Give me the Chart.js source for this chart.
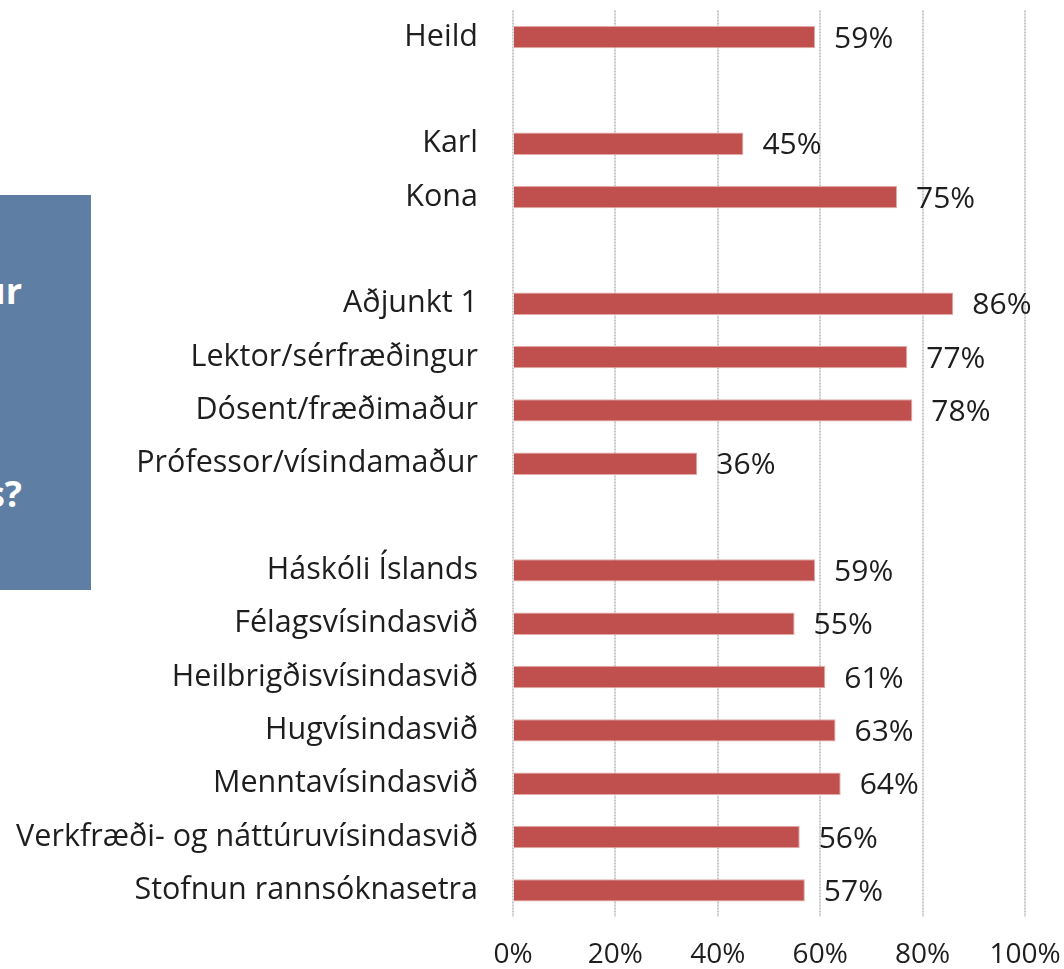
<!DOCTYPE html>
<html>
<head>
<meta charset="utf-8">
<script src="https://cdn.jsdelivr.net/npm/chart.js@4"></script>
<style>
  html, body { margin: 0; padding: 0; background: #fff; }
  body { width: 1064px; height: 969px; position: relative; overflow: hidden; }
  #box { position: absolute; left: 0; top: 195px; width: 91px; height: 395px; background: #5f7ea3; overflow: hidden; }
  .boxtxt { position: absolute; left: 22px; transform: translateX(-100%); color: #fff;
            font: bold 36px "Open Sans", sans-serif; white-space: nowrap; line-height: 1; }
  #wrap { position: absolute; left: 0; top: 0; width: 1064px; height: 969px; }
</style>
</head>
<body>
<div id="box">
  <span class="boxtxt" style="top: 78px;">ur</span>
  <span class="boxtxt" style="top: 281px;">s?</span>
</div>
<div id="wrap"><canvas id="grafico"></canvas></div>
<script>
// flokkar (tómir strengir = bil milli hópa)
const flokkar = [
    'Heild', '',
    'Karl', 'Kona', '',
    'Aðjunkt 1', 'Lektor/sérfræðingur', 'Dósent/fræðimaður', 'Prófessor/vísindamaður', '',
    'Háskóli Íslands', 'Félagsvísindasvið', 'Heilbrigðisvísindasvið', 'Hugvísindasvið',
    'Menntavísindasvið', 'Verkfræði- og náttúruvísindasvið', 'Stofnun rannsóknasetra'
];
const hlutfall = [
    59, null,
    45, 75, null,
    86, 77, 78, 36, null,
    59, 55, 61, 63, 64, 56, 57
];
const asTicks = [0, 20, 40, 60, 80, 100];

const letur = '"Open Sans", sans-serif';
const textalitur = '#1e1e1e';

// gildi skrifuð hægra megin við súlurnar
const gildaMerki = {
    id: 'gildaMerki',
    afterDatasetsDraw(chart) {
        const ctx = chart.ctx;
        const meta = chart.getDatasetMeta(0);
        ctx.save();
        ctx.font = '30px ' + letur;
        ctx.fillStyle = textalitur;
        ctx.textAlign = 'left';
        ctx.textBaseline = 'middle';
        meta.data.forEach((bar, i) => {
            const v = hlutfall[i];
            if (v === null) return;
            ctx.fillText(v + '%', bar.x + 19, bar.y + 2);
        });
        ctx.restore();
    }
};

const ctx = document.getElementById('grafico').getContext('2d');
const graf = new Chart(ctx, {
    type: 'bar',
    data: {
        labels: flokkar,
        datasets: [{
            data: hlutfall,
            backgroundColor: '#c0504d',
            borderColor: '#e3aaa8',
            borderWidth: 1,
            categoryPercentage: 1,
            barPercentage: 0.42
        }]
    },
    options: {
        indexAxis: 'y',
        responsive: true,
        maintainAspectRatio: false,
        animation: false,
        layout: { padding: { top: 10.5, right: 39, bottom: 0, left: 0 } },
        plugins: {
            legend: { display: false },
            tooltip: { enabled: false }
        },
        scales: {
            x: {
                min: 0,
                max: 100,
                afterBuildTicks: s => { s.ticks = asTicks.map(v => ({ value: v })); },
                afterFit: s => { s.height = 52; s.paddingLeft = 0; s.paddingRight = 0; },
                ticks: {
                    callback: v => v + '%',
                    font: { family: letur, size: 28, lineHeight: 1 },
                    color: textalitur,
                    padding: 24,
                    maxRotation: 0
                },
                grid: {
                    color: '#c8c8c8',
                    lineWidth: 2,
                    drawTicks: false
                },
                border: { display: false, dash: [2, 1] }
            },
            y: {
                afterFit: s => { s.width = 513; s.paddingTop = 0; s.paddingBottom = 0; },
                ticks: {
                    font: { family: letur, size: 30.5 },
                    color: textalitur,
                    padding: 35,
                    autoSkip: false
                },
                grid: { display: false, drawTicks: false },
                border: { display: false }
            }
        }
    },
    plugins: [gildaMerki]
});
</script>
</body>
</html>
